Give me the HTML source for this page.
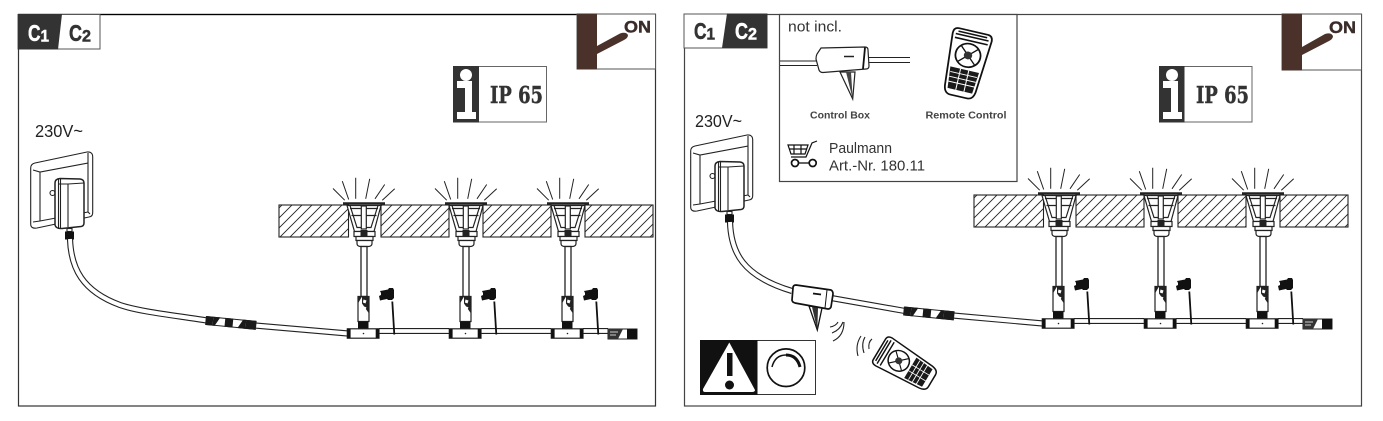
<!DOCTYPE html>
<html><head><meta charset="utf-8"><style>
html,body{margin:0;padding:0;background:#fff;width:1383px;height:421px;overflow:hidden}
svg{display:block}
text{font-family:"Liberation Sans",sans-serif}
</style></head><body>
<svg xmlns="http://www.w3.org/2000/svg" width="1383" height="421" viewBox="0 0 1383 421">
<defs>
<pattern id="h" width="10" height="10" patternUnits="userSpaceOnUse" patternTransform="translate(0 7)">
<path d="M-1 11L11 -1M-1 1L1 -1M9 11L11 9" stroke="#222" stroke-width=".9" fill="none"/>
</pattern>
<g id="lamp">
<path d="M-31-15L-19.3-3.3M-21.7-22.3L-15.3-4M-8.3-25.7V-4.7M5.7-24.7L1.7-4.7M20.7-19L11-4.7M30.7-14.7L18.300-3.3" stroke="#222" stroke-width="1" fill="none"/>
<path d="M-21 0H21" stroke="#222" stroke-width="2.4"/>
<g stroke="#222" stroke-width="1.200" fill="#fff">
<path d="M-17 2L-9.5 28H10L17 2Z"/>
<path d="M-14 2L-7 24H7L14 2" fill="none"/>
<path d="M-14 5H14M-12.5 12H12.5" fill="none"/>
<rect x="-2.7" y="2.5" width="5" height="23"/>
<rect x="-10" y="28" width="21" height="5"/>
<rect x="-8" y="33" width="17" height="4"/>
<path d="M-7 37H8V40Q8 43 4 43H-3Q-7 43-7 40Z"/>
</g>
<rect x="-3.500" y="26.500" width="7" height="6" fill="#222"/>
<rect x="-3" y="43" width="6" height="50" fill="#fff" stroke="#222" stroke-width="1.300"/>
<path d="M-6 93H5V118H-6Z" fill="#fff" stroke="#222" stroke-width="1.200"/>
<path d="M-6 93H5V110L-2 100V93L-6 100Z" fill="#222"/>
<path d="M-.5 96l3 1-1 3-2.600-1zM.5 103l2 1-1 2-2-1z" fill="#fff"/>
<rect x="-6" y="118" width="10.500" height="7.500" fill="#111"/>
<rect x="-16.700" y="125.300" width="31.700" height="9.400" fill="#fff" stroke="#222" stroke-width="1.200"/>
<rect x="-16.700" y="125.300" width="3.300" height="9.400" fill="#111"/>
<rect x="11.700" y="125.300" width="3.300" height="9.400" fill="#111"/>
<circle cx="-.5" cy="130" r=".8" fill="#222"/>
<path d="M28.300 98L30.300 131" stroke="#111" stroke-width="1.800" fill="none"/>
<path d="M16 87.500l8-1.500 1-1.500h4l1 2v8l-2 2h-4l-1-1-7 1.500-1-4.500 2-1v-2z" fill="#111"/>
</g>
<g id="run">
<g fill="url(#h)" stroke="#222" stroke-width="1.100">
<rect x="279" y="205" width="69.500" height="32"/>
<rect x="381" y="205" width="68" height="32"/>
<rect x="483" y="205" width="68" height="32"/>
<rect x="585" y="205" width="68" height="32"/>
</g>
<path d="M379 331H449M481 331H551M583 331H608" stroke="#222" stroke-width="6"/>
<path d="M379 331H449M481 331H551M583 331H608" stroke="#fff" stroke-width="3.800"/>
<use href="#lamp" x="364" y="203.500"/>
<use href="#lamp" x="466" y="203.500"/>
<use href="#lamp" x="568" y="203.500"/>
<rect x="608" y="329" width="29" height="10" fill="#fff" stroke="#222" stroke-width="1"/>
<path d="M608 329H623L618 339H608Z" fill="#333"/>
<path d="M610 332h8M610 335h6" stroke="#fff" stroke-width=".8"/>
<rect x="627" y="329" width="10" height="10" fill="#111"/>
</g>
<g id="conn">
<rect x="0" y="-4" width="50" height="8" fill="#fff" stroke="#222" stroke-width="1"/>
<rect x="0" y="-4.500" width="7" height="9" fill="#1a1a1a"/>
<rect x="19" y="-4.500" width="8" height="9" fill="#1a1a1a"/>
<rect x="40" y="-4.500" width="10" height="9" fill="#1a1a1a"/>
<path d="M7-4.500H14L9 4.500H7ZM32 4.500L37-4.500H40V4.500Z" fill="#1a1a1a"/>
</g>
<g id="sock">
<g stroke="#222" stroke-width="1.100" fill="#fff">
<path d="M30.700 168Q30.700 164 35 163L87 152Q92.700 151.500 92.700 157V212Q93 216.500 89 217L37 228Q30.700 229 30.700 224Z"/>
<path d="M33 170L40 172L88 163V153M40 172V221M33 222L40 221L88 212M88 163V212M90 214L88 212" fill="none"/>
<circle cx="52.500" cy="193" r="2.500"/>
<path d="M55 183Q55 179 60 178.500L80 179Q84 179.500 84 183V223Q84 226 81 226.500L62 228.500Q56 229 55 225Z" stroke-width="1.500"/>
<path d="M58.500 179.500V228.500M60.500 179V228.500M68 184V227M58 184L68 184L84 183" fill="none"/>
<rect x="67" y="228.500" width="5" height="3"/>
</g>
<rect x="65" y="231.500" width="9" height="8" fill="#111"/>
</g>
<g id="rem">
<path d="M-34-14Q-34-19-28-19L26-15Q34-14 34-8V8Q34 14 26 15L-28 19Q-34 19-34 14Z" fill="#fff" stroke="#111" stroke-width="1.700"/>
<path d="M-31-14L-31 14M-28-16V16M-24-16V16" stroke="#111" stroke-width="1.600"/>
<circle cx="-9" cy="0" r="12" fill="#fff" stroke="#111" stroke-width="1.700"/>
<path d="M-17-8L-1 8M-17 8L-1-8" stroke="#111" stroke-width="1.300"/>
<circle cx="-9" cy="0" r="4" fill="#333"/>
<path d="M6-14L28-12V12L6 14Z" fill="#1a1a1a"/>
<path d="M11-13V13M16-13V13M21-13V13M6-4H28M6 4H28" stroke="#fff" stroke-width="1"/>
</g>
</defs>

<!-- LEFT PANEL -->
<rect x="18.500" y="14.500" width="637" height="391.500" fill="#fff" stroke="#333" stroke-width="1.200"/>
<path d="M18 14.500H656" stroke="#000" stroke-width="1.200"/>
<rect x="18" y="14.500" width="82" height="34.500" fill="#fff" stroke="#555" stroke-width="1"/>
<path d="M18 14H62L58 49.500H18Z" fill="#333"/>
<g font-weight="700" stroke-width=".5">
<text x="28" y="41" font-size="23" fill="#fff" stroke="#fff" textLength="12.500" lengthAdjust="spacingAndGlyphs">C</text>
<text x="40.500" y="41.500" font-size="17" fill="#fff" stroke="#fff" textLength="8.500" lengthAdjust="spacingAndGlyphs">1</text>
<text x="69" y="41" font-size="23" fill="#333" stroke="#333" textLength="13" lengthAdjust="spacingAndGlyphs">C</text>
<text x="82" y="41.500" font-size="17" fill="#333" stroke="#333" textLength="9" lengthAdjust="spacingAndGlyphs">2</text>
</g>

<rect x="577" y="14" width="78.500" height="55" fill="#fff" stroke="#555" stroke-width="1"/>
<rect x="577" y="13.500" width="20" height="56" fill="#4a322a"/>
<path d="M597 46L620 33.500Q626 31.500 628 35Q628 38 624 40L597 54Z" fill="#4a322a"/>
<text x="624" y="32.500" font-size="16.500" font-weight="700" fill="#3a2d29" stroke="#3a2d29" stroke-width=".4" textLength="27" lengthAdjust="spacingAndGlyphs">ON</text>

<rect x="453.500" y="66.500" width="93" height="55.500" fill="#fff" stroke="#666" stroke-width="1"/>
<rect x="453" y="66" width="26" height="56.500" fill="#333"/>
<circle cx="466" cy="75" r="6" fill="#fff"/>
<path d="M457 81H472V112H476V119H457V112H465V88H457Z" fill="#fff"/>
<text x="490" y="103" style="font-family:'DejaVu Serif',serif" font-size="23" font-weight="700" fill="#333" stroke="#333" stroke-width=".4" textLength="53" lengthAdjust="spacingAndGlyphs">IP 65</text>

<text x="35" y="137" font-size="17.500" fill="#222" textLength="48" lengthAdjust="spacingAndGlyphs">230V~</text>
<use href="#sock"/>
<path d="M70 239C71 268 82 291 120 305C140 312 180 316 206.700 320.500M255 325.500L348 333.500" fill="none" stroke="#222" stroke-width="6.200"/>
<path d="M70 239C71 268 82 291 120 305C140 312 180 316 206.700 320.500M255 325.500L348 333.500" fill="none" stroke="#fff" stroke-width="4"/>
<use href="#conn" transform="translate(206 320.500) rotate(5.500)"/>
<use href="#run"/>

<!-- RIGHT PANEL -->
<rect x="684.500" y="14.500" width="677" height="391.500" fill="#fff" stroke="#444" stroke-width="1.200"/>
<rect x="684" y="14" width="83" height="34" fill="#fff" stroke="#555" stroke-width="1"/>
<path d="M727 13.500H767.500V48H722Z" fill="#333"/>
<g font-weight="700" stroke-width=".5">
<text x="694" y="39" font-size="23" fill="#333" stroke="#333" textLength="12.500" lengthAdjust="spacingAndGlyphs">C</text>
<text x="706.500" y="39.500" font-size="17" fill="#333" stroke="#333" textLength="8.500" lengthAdjust="spacingAndGlyphs">1</text>
<text x="735" y="39" font-size="23" fill="#fff" stroke="#fff" textLength="13" lengthAdjust="spacingAndGlyphs">C</text>
<text x="748" y="39.500" font-size="17" fill="#fff" stroke="#fff" textLength="9" lengthAdjust="spacingAndGlyphs">2</text>
</g>

<rect x="1282" y="14" width="79.500" height="56" fill="#fff" stroke="#555" stroke-width="1"/>
<rect x="1282" y="13.500" width="20" height="57" fill="#4a322a"/>
<path d="M1302 47L1325 34Q1331 32 1333 36Q1333 39 1329 41L1302 55Z" fill="#4a322a"/>
<text x="1329" y="33" font-size="16.500" font-weight="700" fill="#3a2d29" stroke="#3a2d29" stroke-width=".4" textLength="27" lengthAdjust="spacingAndGlyphs">ON</text>

<rect x="1159.500" y="66.500" width="92.500" height="55.500" fill="#fff" stroke="#666" stroke-width="1"/>
<rect x="1159" y="66" width="25.500" height="56.500" fill="#333"/>
<circle cx="1172" cy="75" r="6" fill="#fff"/>
<path d="M1163 81H1178V112H1182V119H1163V112H1171V88H1163Z" fill="#fff"/>
<text x="1196" y="103" style="font-family:'DejaVu Serif',serif" font-size="23" font-weight="700" fill="#333" stroke="#333" stroke-width=".4" textLength="53" lengthAdjust="spacingAndGlyphs">IP 65</text>

<text x="695" y="127" font-size="17.500" fill="#222" textLength="47" lengthAdjust="spacingAndGlyphs">230V~</text>
<use href="#sock" x="660" y="-17"/>
<path d="M730 222C731 252 742 276 792 291M833 298.300L905 311M953 315.500L1043 323.500" fill="none" stroke="#222" stroke-width="6.200"/>
<path d="M730 222C731 252 742 276 792 291M833 298.300L905 311M953 315.500L1043 323.500" fill="none" stroke="#fff" stroke-width="4"/>
<use href="#conn" transform="translate(904 311) rotate(5.500)"/>
<use href="#run" x="695" y="-10"/>

<!-- control box on cable -->
<path d="M809 306L817.300 330L822 308Z" fill="#fff" stroke="#111" stroke-width="1.300"/>
<path d="M812 307L817.300 330L818 308" fill="#333"/>
<path d="M796 285L831 290Q833 291 833 294L831 307Q830 309 828 309L795 303Q792 302 792 300L793 288Q793 285 796 285Z" fill="#fff" stroke="#111" stroke-width="1.700"/>
<path d="M827 290L825 308" stroke="#111" stroke-width="1" fill="none"/>
<path d="M813 293.500l8 1" stroke="#111" stroke-width="1.800"/>
<!-- waves -->
<g fill="none" stroke="#222" stroke-width="1.100">
<path d="M830 327Q836 326 838 322M832 333Q840 330 843 322M833 341Q844 336 844 322"/>
<path d="M872 339Q868 342 869 349M865 337Q861 344 864 353M861 336Q855 345 858 356"/>
</g>
<use href="#rem" transform="translate(905.700 365) rotate(31) scale(.9 .85)"/>

<!-- warning -->
<rect x="700.500" y="340.500" width="115" height="54" fill="#fff" stroke="#333" stroke-width="1"/>
<rect x="700" y="340" width="57.500" height="55" fill="#111"/>
<path d="M729.300 342.500L755 390Q755 392 752 392H705Q702.500 392 703 389Z" fill="#fff"/>
<rect x="727" y="353" width="5.500" height="23" fill="#111"/>
<circle cx="729.500" cy="385" r="4.500" fill="#111"/>
<circle cx="786" cy="367.700" r="18.800" fill="#fff" stroke="#111" stroke-width="1.700"/>
<path d="M772 367Q775 355 786 355" fill="none" stroke="#111" stroke-width="1.500"/>
<path d="M786 355Q797 355 800 367" fill="none" stroke="#111" stroke-width="3"/>

<!-- info box -->
<rect x="779.500" y="14.500" width="237.500" height="167" fill="#fff" stroke="#444" stroke-width="1.200"/>
<text x="788" y="31.500" font-size="15" fill="#333" textLength="54" lengthAdjust="spacingAndGlyphs">not incl.</text>
<path d="M780 61H817M780 65.500H817M868 57.500H910M868 62.500H910" stroke="#222" stroke-width="1" fill="none"/>
<path d="M840 72L852.700 99L855 72Z" fill="#fff" stroke="#222" stroke-width="1.200"/>
<path d="M846 72L852.700 99L851 72Z" fill="#444"/>
<path d="M821 48L865 47Q868 47 868 50L869 66Q869 69 866 69L823 72.500Q820 72.500 819 70L816 59Q816 56 817 54Z" fill="#fff" stroke="#222" stroke-width="1.200"/>
<path d="M865 47.500L863 69" stroke="#111" stroke-width="1.800"/>
<path d="M844 56.500h10" stroke="#222" stroke-width="1.500"/>
<text x="810" y="118.500" font-size="10.500" font-weight="700" fill="#444" textLength="60" lengthAdjust="spacingAndGlyphs">Control Box</text>
<text x="925.500" y="118.500" font-size="10.500" font-weight="700" fill="#444" textLength="81" lengthAdjust="spacingAndGlyphs">Remote Control</text>
<use href="#rem" transform="translate(966 64) rotate(103) scale(.98 1.050)"/>
<path d="M788 145H808L805 154H791Z" fill="#fff" stroke="#111" stroke-width="1.200"/>
<path d="M789 149H807M794 145V154M801 145V154M791 157H806L812 143L817 141" fill="none" stroke="#111" stroke-width="1.200"/>
<circle cx="795" cy="163" r="3.500" fill="#fff" stroke="#111" stroke-width="1.700"/>
<circle cx="812.700" cy="163" r="3.500" fill="#fff" stroke="#111" stroke-width="1.700"/>
<path d="M798.500 163H809" stroke="#111" stroke-width="1.300"/>
<text x="829" y="153" font-size="15" fill="#333" textLength="63" lengthAdjust="spacingAndGlyphs">Paulmann</text>
<text x="829" y="170.500" font-size="15" fill="#333" textLength="96" lengthAdjust="spacingAndGlyphs">Art.-Nr. 180.11</text>
</svg>
</body></html>
